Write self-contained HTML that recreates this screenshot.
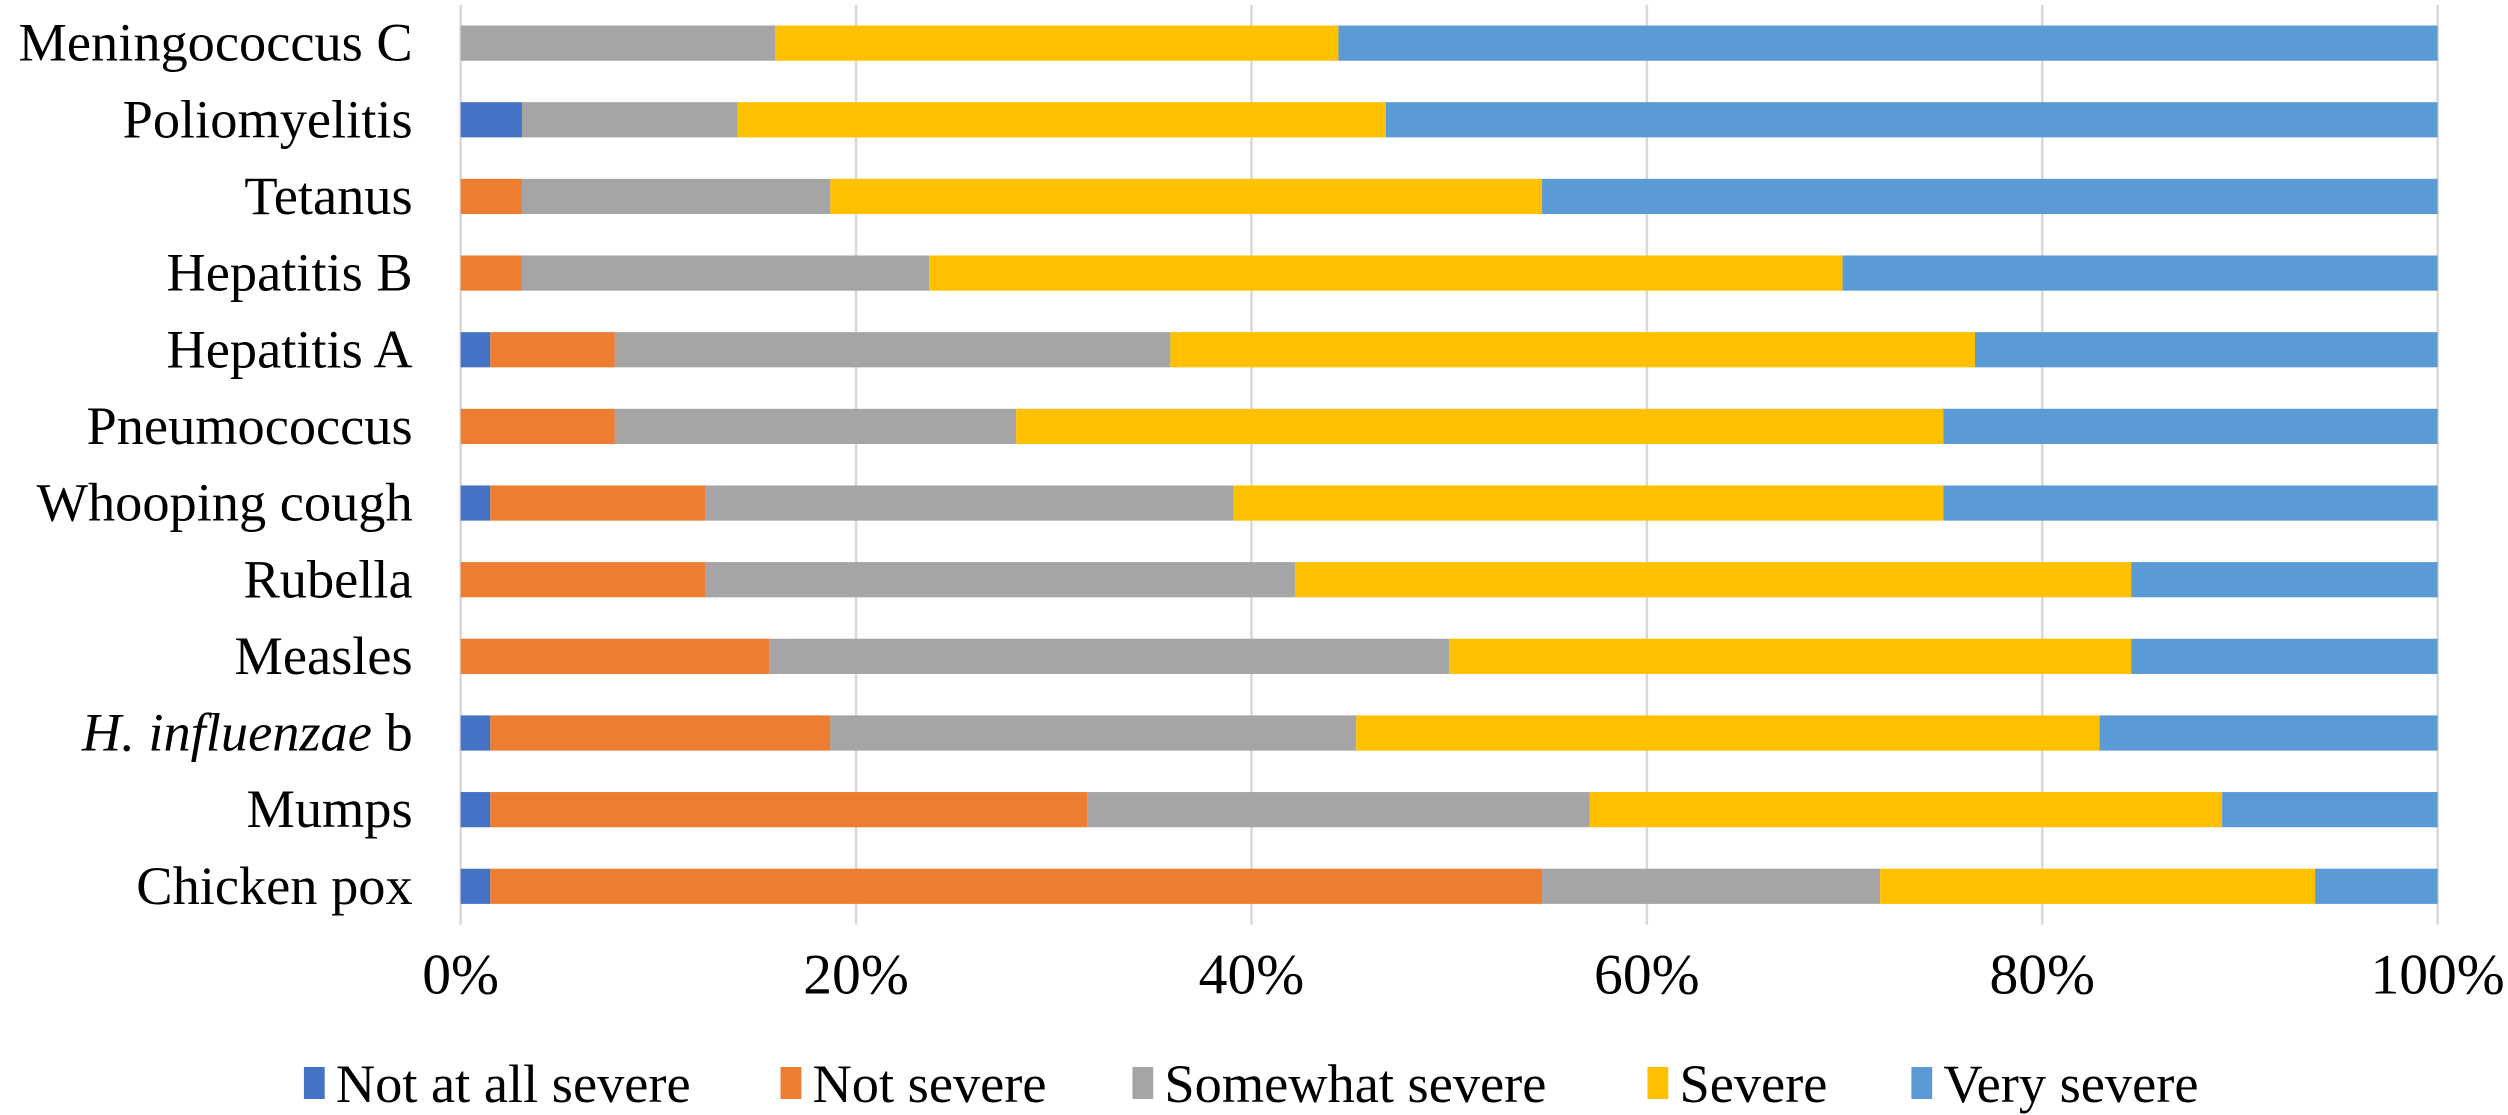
<!DOCTYPE html>
<html><head><meta charset="utf-8"><style>
html,body{margin:0;padding:0;background:#fff;}
svg{display:block;}
text{font-family:"Liberation Serif","DejaVu Serif",serif;fill:#000;}
</style></head><body>
<svg id="chart" width="2508" height="1115" viewBox="0 0 1568 697" preserveAspectRatio="none" xmlns="http://www.w3.org/2000/svg" font-family="Liberation Serif, DejaVu Serif, serif">
<g id="grid"></g>
<g id="bars"></g>
<g id="ylabels"></g>
<g id="xlabels"></g>
<g id="legend"></g>
</svg>
<script>
const categories = ["Meningococcus C","Poliomyelitis","Tetanus","Hepatitis B","Hepatitis A","Pneumococcus","Whooping cough","Rubella","Measles","H. influenzae b","Mumps","Chicken pox"];
const notAtAllSevere = [0,3.1,0,0,1.5,0,1.5,0,0,1.5,1.5,1.5];
const notSevere      = [0,0,3.1,3.1,6.3,7.8,10.9,12.4,15.6,17.2,30.2,53.2];
const somewhatSevere = [15.9,10.9,15.6,20.6,28.1,20.3,26.7,29.8,34.4,26.6,25.4,17.1];
const severe         = [28.5,32.8,36.0,46.2,40.7,46.9,35.9,42.3,34.5,37.6,32.0,22.0];
const verySevere     = [55.6,53.2,45.3,30.1,23.4,25.0,25.0,15.5,15.5,17.1,10.9,6.2];
const tickLabels = ["0%","20%","40%","60%","80%","100%"];
const tickValues = [0,20,40,60,80,100];
const seriesNames = ["Not at all severe","Not severe","Somewhat severe","Severe","Very severe"];

const series = [notAtAllSevere, notSevere, somewhatSevere, severe, verySevere];
const colors = ["#4472C4","#ED7D31","#A5A5A5","#FFC000","#5B9BD5"];
const SVGNS = "http://www.w3.org/2000/svg";
const FONT = '"Liberation Serif", "DejaVu Serif", serif';
const x0 = 288, x1 = 1524, plotTop = 3, plotBottom = 578;
const xScale = v => x0 + (x1 - x0) * v / 100;
const rowH = (plotBottom - plotTop) / categories.length;
const yCenter = i => plotTop + rowH * (i + 0.5);
const barH = 22;
function mk(tag, parent){ const e = document.createElementNS(SVGNS, tag); parent.appendChild(e); return e; }

const grid = document.getElementById('grid');
tickValues.forEach((t, i) => {
  const l = mk('line', grid);
  
  
  l.setAttribute('x1', xScale(t)); l.setAttribute('x2', xScale(t));
  l.setAttribute('y1', plotTop); l.setAttribute('y2', plotBottom);
  l.setAttribute('stroke', '#D9D9D9'); l.setAttribute('stroke-width', 1.6);
  const tx = mk('text', document.getElementById('xlabels'));
  
  
  tx.setAttribute('x', xScale(t)); tx.setAttribute('y', 621);
  tx.setAttribute('text-anchor', 'middle'); tx.setAttribute('font-size', 36);
  tx.setAttribute('font-family', FONT);
  tx.textContent = tickLabels[i];
});

const bars = document.getElementById('bars');
categories.forEach((c, i) => {
  let cum = 0;
  series.forEach((s, k) => {
    const v = s[i];
    if (v > 0) {
      const r = mk('rect', bars);
      
      
      r.setAttribute('x', xScale(cum)); r.setAttribute('width', xScale(cum + v) - xScale(cum));
      r.setAttribute('y', yCenter(i) - barH / 2); r.setAttribute('height', barH);
      r.setAttribute('fill', colors[k]);
    }
    cum += v;
  });
  const t = mk('text', document.getElementById('ylabels'));
  
  
  t.setAttribute('x', 258); t.setAttribute('y', yCenter(i) + 11);
  t.setAttribute('text-anchor', 'end'); t.setAttribute('font-size', 34);
  t.setAttribute('font-family', FONT);
  if (c.indexOf('H. influenzae') === 0) {
    const a = mk('tspan', t); a.setAttribute('font-style', 'italic'); a.textContent = 'H. influenzae';
    const b = mk('tspan', t); b.textContent = ' b';
  } else t.textContent = c;
});

const legend = document.getElementById('legend');
const lx = [190, 488, 708, 1030, 1195];
seriesNames.forEach((n, k) => {
  const g = mk('g', legend);
  
  
  const r = mk('rect', g);
  r.setAttribute('x', lx[k]); r.setAttribute('y', 667); r.setAttribute('width', 13); r.setAttribute('height', 20);
  r.setAttribute('fill', colors[k]);
  const t = mk('text', g);
  t.setAttribute('x', lx[k] + 20); t.setAttribute('y', 689); t.setAttribute('font-size', 34);
  t.setAttribute('font-family', FONT);
  t.textContent = n;
});
</script>
</body></html>
